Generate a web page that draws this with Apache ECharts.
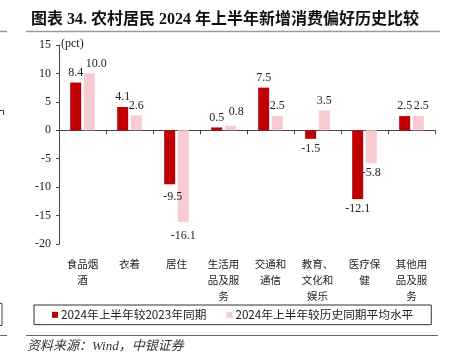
<!DOCTYPE html>
<html><head><meta charset="utf-8">
<script src="https://cdn.jsdelivr.net/npm/echarts@6/dist/echarts.min.js"></script>
<style>html,body{margin:0;padding:0;background:#fff}#c{width:451px;height:361px}</style>
</head><body><div id="c"></div>
<script>
const categories = ['食品烟\n酒','衣着','居住','生活用\n品及服\n务','交通和\n通信','教育、\n文化和\n娱乐','医疗保\n健','其他用\n品及服\n务'];
const seriesNames = ['2024年上半年较2023年同期','2024年上半年较历史同期平均水平'];
const vs2023 = [8.4, 4.1, -9.5, 0.5, 7.5, -1.5, -12.1, 2.5];
const vsHistory = [10.0, 2.6, -16.1, 0.8, 2.5, 3.5, -5.8, 2.5];
const yTicks = {min: -20, max: 15, interval: 5};

// label nudges (layout only)
const nudgeA = {2: [3, 3]};
const nudgeB = {0: [7, 0], 3: [6, -4], 2: [0, 4], 7: [3, 0]};

function mk(vals, nudge) {
  return vals.map((v, i) => {
    const o = {value: v, label: {position: v >= 0 ? 'top' : 'bottom'}};
    if (nudge[i]) o.label.offset = nudge[i];
    return o;
  });
}

const serif = '"Liberation Serif", "Times New Roman", serif';
const chart = echarts.init(document.getElementById('c'), null, {renderer: 'canvas'});
const labelStyle = {show: true, fontFamily: serif, fontSize: 12, color: '#222', distance: 4, formatter: p => p.value.toFixed(1)};

chart.setOption({
  animation: false,
  title: {
    text: '图表 34. 农村居民 2024 年上半年新增消费偏好历史比较',
    left: 26, top: 7,
    textStyle: {fontFamily: '"Liberation Serif", "Noto Sans CJK SC"', fontSize: 16, fontWeight: 'bold', color: '#111'}
  },
  grid: {left: 59, right: 16, top: 45, bottom: 117, containLabel: false},
  legend: {
    data: seriesNames,
    left: 34, top: 305,
    itemWidth: 6, itemHeight: 6, itemGap: 20,
    padding: [4, 18, 4, 18],
    borderColor: '#333', borderWidth: 1,
    icon: 'rect',
    textStyle: {fontFamily: '"Noto Sans CJK SC"', fontSize: 11.7, color: '#222', padding: [0, 0, 0, -2]}
  },
  xAxis: [{
    type: 'category', data: categories,
    axisLine: {onZero: true, lineStyle: {color: '#444', width: 1}},
    axisTick: {show: true, length: 4, lineStyle: {color: '#444'}},
    axisLabel: {show: false}
  }, {
    type: 'category', data: categories, position: 'bottom',
    axisLine: {show: false}, axisTick: {show: false},
    axisLabel: {margin: 12, fontFamily: '"Noto Sans CJK SC"', fontSize: 10.5, color: '#222', lineHeight: 16, interval: 0, verticalAlign: 'top'}
  }],
  yAxis: {
    type: 'value', min: yTicks.min, max: yTicks.max, interval: yTicks.interval,
    splitLine: {show: false},
    axisLine: {show: true, lineStyle: {color: '#444', width: 1}},
    axisTick: {show: true, length: 3, lineStyle: {color: '#444'}},
    axisLabel: {fontFamily: serif, fontSize: 12, color: '#222', margin: 8}
  },
  series: [{
    name: seriesNames[0], type: 'bar', xAxisIndex: 0, data: mk(vs2023, nudgeA),
    barWidth: 11, barGap: '24%', itemStyle: {color: '#C00000'}, label: labelStyle
  }, {
    name: seriesNames[1], type: 'bar', xAxisIndex: 0, data: mk(vsHistory, nudgeB),
    barWidth: 11, barGap: '24%', itemStyle: {color: '#F8CBD2'}, label: labelStyle
  }],
  graphic: [
    {type: 'text', left: 61, top: 38, style: {text: '(pct)', font: '12px ' + serif, fill: '#222'}},
    {type: 'line', shape: {x1: 26, y1: 31.5, x2: 440, y2: 31.5}, style: {stroke: '#999', lineWidth: 1.5}},
    {type: 'line', shape: {x1: 26, y1: 335.5, x2: 438, y2: 335.5}, style: {stroke: '#666', lineWidth: 1}},
    {type: 'text', left: 27, top: 340, style: {text: '资料来源：Wind，中银证券', font: 'italic 13px "Liberation Serif", "Noto Sans CJK SC"', fill: '#333'}},
    {type: 'line', shape: {x1: 0, y1: 31.5, x2: 7, y2: 31.5}, style: {stroke: '#999', lineWidth: 1.5}},
    {type: 'line', shape: {x1: 0, y1: 335.5, x2: 7, y2: 335.5}, style: {stroke: '#666', lineWidth: 1}},
    {type: 'polyline', shape: {points: [[0, 110.5], [3.5, 110.5], [3.5, 115]]}, style: {stroke: '#444', lineWidth: 1, fill: null}},
    {type: 'polyline', shape: {points: [[0, 303.5], [2, 303.5], [2, 325.5], [0, 325.5]]}, style: {stroke: '#444', lineWidth: 1, fill: null}}
  ]
});
</script></body></html>
